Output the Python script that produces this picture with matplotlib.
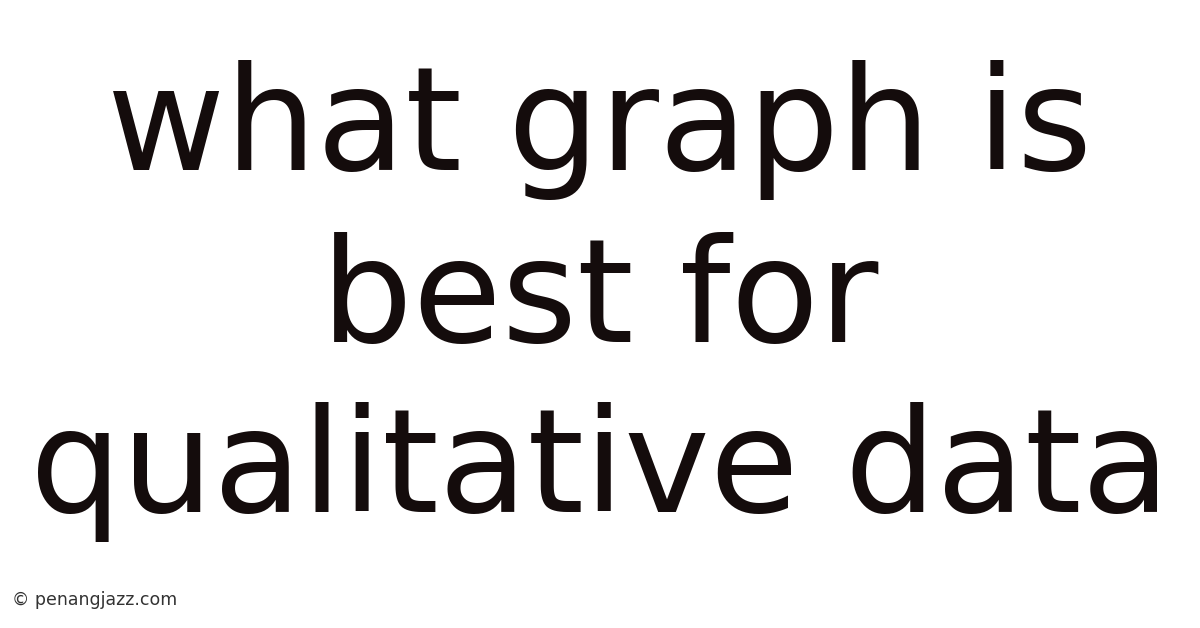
import matplotlib
matplotlib.use('Agg')
import matplotlib.pyplot as plt

lines = ['what graph is', 'best for', 'qualitative data']
baselines = [170, 342, 512]  # pixels from top
watermark = '\u00a9 penangjazz.com'

W, H = 1200, 628
fig = plt.figure(figsize=(W / 100, H / 100), dpi=100)
fig.patch.set_facecolor('white')

for txt, yb in zip(lines, baselines):
    fig.text(0.5, 1 - yb / H, txt, ha='center', va='baseline',
             fontsize=104, color='#140c0c', family='DejaVu Sans')

fig.text(12 / W, 1 - 605 / H, watermark, ha='left', va='baseline',
         fontsize=12.5, color='#333333', family='DejaVu Sans')

fig.savefig('out.png', dpi=100, facecolor='white')
